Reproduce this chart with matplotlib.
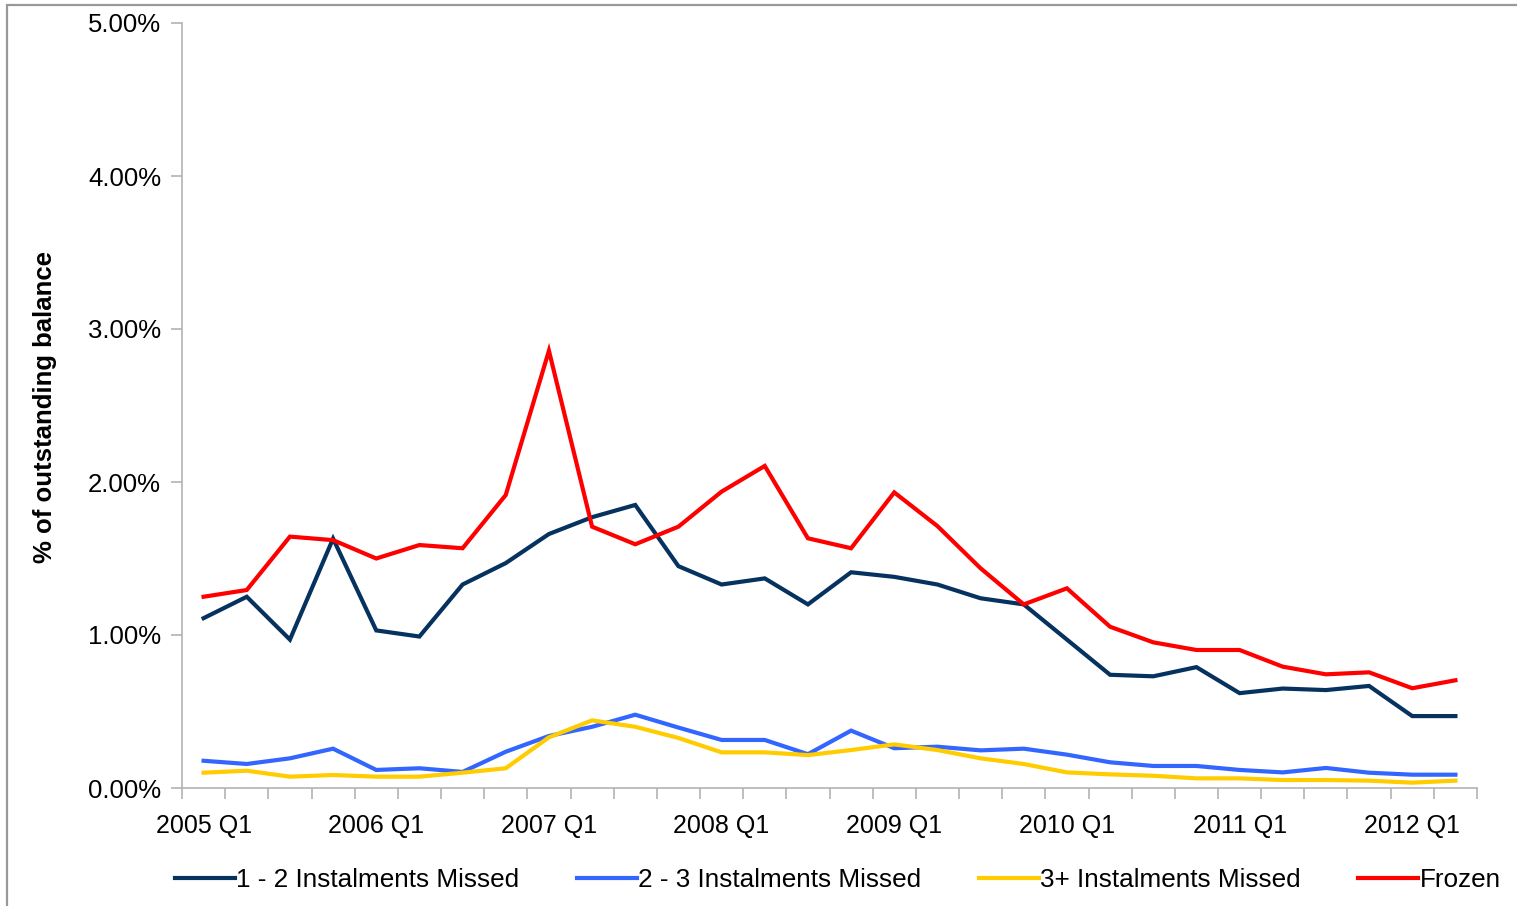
import matplotlib
matplotlib.use('Agg')
from matplotlib import pyplot as plt
from matplotlib.patches import Rectangle
import numpy as np

#Quarters from 2005 Q1 to 2012 Q2
quarters = ["{} Q{}".format(y, q) for y in range(2005, 2013) for q in range(1, 5)][:30]

#Values (% of outstanding balance)
missed_1_2 = [1.11, 1.25, 0.97, 1.63, 1.03, 0.99, 1.33, 1.47, 1.66, 1.77, 1.85, 1.45,
              1.33, 1.37, 1.20, 1.41, 1.38, 1.33, 1.24, 1.20, 0.97, 0.74, 0.73, 0.79,
              0.62, 0.65, 0.64, 0.667, 0.47, 0.47]
missed_2_3 = [0.178, 0.157, 0.194, 0.257, 0.118, 0.129, 0.105, 0.237, 0.34, 0.40, 0.479, 0.395,
              0.314, 0.314, 0.221, 0.375, 0.26, 0.27, 0.246, 0.257, 0.218, 0.168, 0.144, 0.144,
              0.118, 0.102, 0.131, 0.10, 0.087, 0.087]
missed_3plus = [0.10, 0.113, 0.074, 0.085, 0.074, 0.074, 0.10, 0.129, 0.331, 0.442, 0.40, 0.327,
                0.233, 0.233, 0.215, 0.248, 0.285, 0.248, 0.194, 0.157, 0.102, 0.089, 0.08, 0.063,
                0.063, 0.052, 0.052, 0.048, 0.035, 0.048]
frozen = [1.25, 1.294, 1.643, 1.62, 1.50, 1.588, 1.567, 1.915, 2.858, 1.708, 1.593, 1.708,
          1.937, 2.105, 1.632, 1.567, 1.932, 1.712, 1.436, 1.20, 1.305, 1.054, 0.952, 0.902,
          0.902, 0.793, 0.743, 0.756, 0.652, 0.704]

series = [(missed_1_2, '#06325f', '1 - 2 Instalments Missed'),
          (missed_2_3, '#3366ff', '2 - 3 Instalments Missed'),
          (missed_3plus, '#ffcc00', '3+ Instalments Missed'),
          (frozen, '#ff0000', 'Frozen')]

plt.rcParams['font.family'] = ['Liberation Sans', 'DejaVu Sans']

fig = plt.figure(figsize=(15.17, 9.06), dpi=100)
ax = fig.add_axes([182/1517, 1-788/906, (1477-182)/1517, (788-23)/906])

x = np.arange(len(quarters))
for vals, col, lab in series:
    ax.plot(x, vals, color=col, linewidth=3, label=lab, solid_joinstyle='miter')

#Axis formatting
ax.set_xlim(-0.5, len(quarters)-0.5)
ax.set_ylim(0, 5)
ax.set_yticks(np.arange(0, 6, 1))
ax.set_yticklabels(["{:.2f}%".format(v) for v in range(6)])
ax.set_xticks(x[::4])
ax.set_xticklabels(quarters[::4])
ax.set_xticks(np.arange(-0.5, len(quarters), 1), minor=True)
ax.tick_params(axis='x', which='major', length=0, pad=19, labelsize=18)
ax.tick_params(axis='x', which='minor', length=8, width=1.2, color='#b3b3b3', direction='out')
ax.tick_params(axis='y', length=8, width=1.2, color='#b3b3b3', pad=7, labelsize=18.5)
for s in ['top', 'right']:
    ax.spines[s].set_visible(False)
for s in ['left', 'bottom']:
    ax.spines[s].set_color('#b3b3b3')
    ax.spines[s].set_linewidth(1.2)

fig.text(45/1517, 1-407/906, "% of outstanding balance", rotation=90, fontsize=18.5,
         fontweight='bold', ha='center', va='center')

fig.legend(loc='center', bbox_to_anchor=(838/1517, 1-880/906), ncol=4, frameon=False,
           fontsize=18.8, handlelength=2.3, handletextpad=0.05, columnspacing=2.2)

#grey frame of chart area
fig.patches.append(Rectangle((7/1517, -0.1), 1.2, 1-5/906+0.1, transform=fig.transFigure,
                             fill=False, edgecolor='#999999', linewidth=1.6))

fig.savefig('out.png', dpi=100)
